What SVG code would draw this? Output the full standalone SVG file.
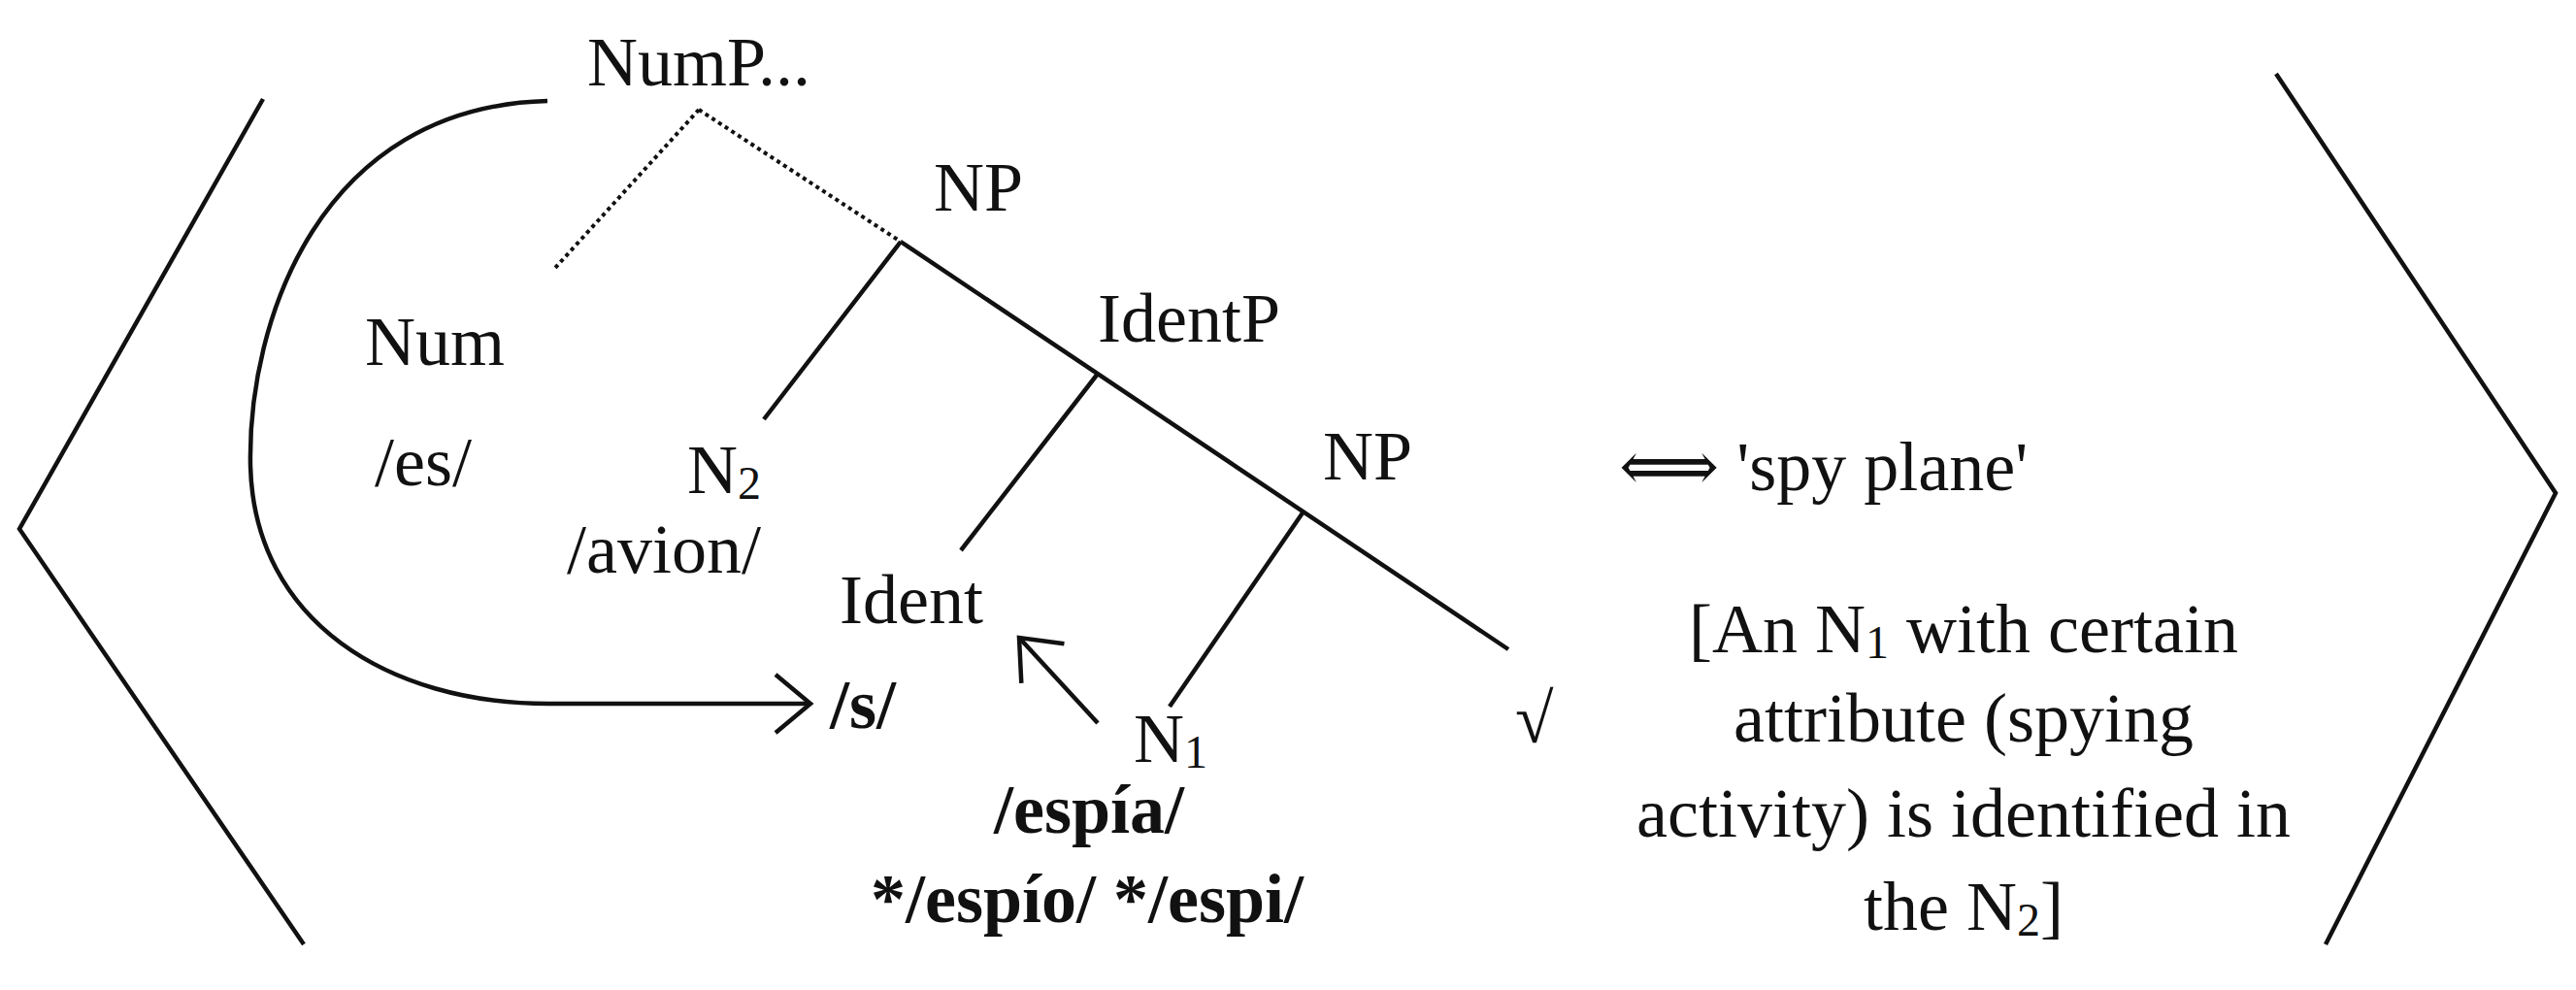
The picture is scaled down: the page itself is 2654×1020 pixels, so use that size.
<svg xmlns="http://www.w3.org/2000/svg" width="2654" height="1020" viewBox="0 0 2654 1020">
<style>
text{font-family:"Liberation Serif","DejaVu Serif",serif;font-size:72px;fill:#111}
.b{font-weight:bold}
.l{stroke:#111;stroke-width:4.5;fill:none}
.d{stroke:#111;stroke-width:4;fill:none;stroke-dasharray:4 4}
</style>
<defs>
<marker id="ah2" markerWidth="50" markerHeight="70" refX="46" refY="35" orient="auto" markerUnits="userSpaceOnUse"><path d="M10,5 L46,35 L10,65" fill="none" stroke="#111" stroke-width="4.5"/></marker></defs>
<g id="brackets">
<polyline class="l" points="271,102 20,545 313,973"/>
<polyline class="l" points="2345,76 2633,508 2396,973"/>
</g>
<g id="connectors">
<line class="d" x1="720" y1="113" x2="572" y2="276"/>
<line class="d" x1="720" y1="113" x2="928" y2="249"/>
<line class="l" x1="928" y1="249" x2="1554" y2="669"/>
<line class="l" x1="928" y1="249" x2="787" y2="432"/>
<line class="l" x1="1131" y1="385" x2="990" y2="567"/>
<line class="l" x1="1343" y1="527" x2="1205" y2="728"/>
<line class="l" x1="1131" y1="745" x2="1050" y2="657" marker-end="url(#ah2)"/>
<path class="l" d="M564,104 C330,110 255,330 258,480 C262,640 400,725 565,725 L835,725" marker-end="url(#ah2)"/>
</g>
<g id="numP"><text x="605" y="88">NumP...</text></g>
<g id="np1"><text x="962" y="217">NP</text></g>
<g id="num"><text x="376" y="376">Num</text><text x="386" y="500">/es/</text></g>
<g id="n2"><text x="708" y="508">N<tspan font-size="48" dy="6">2</tspan></text><text x="584" y="590">/avion/</text></g>
<g id="identP"><text x="1131" y="352">IdentP</text></g>
<g id="np2"><text x="1363" y="494">NP</text></g>
<g id="ident"><text x="865" y="642">Ident</text><text class="b" x="855" y="750">/s/</text></g>
<g id="n1"><text x="1168" y="785">N<tspan font-size="48" dy="6">1</tspan></text><text class="b" x="1024" y="858">/espía/</text><text class="b" x="897" y="950">*/espío/ */espi/</text></g>
<g id="root"><text x="1561" y="765">√</text></g>
<g id="meaning"><text x="1668" y="505">⟺ 'spy plane'</text>
<text text-anchor="middle" x="2023" y="672">[An N<tspan font-size="48" dy="6">1</tspan><tspan dy="-6"> with certain</tspan></text>
<text text-anchor="middle" x="2023" y="764">attribute (spying</text>
<text text-anchor="middle" x="2023" y="862">activity) is identified in</text>
<text text-anchor="middle" x="2023" y="958">the N<tspan font-size="48" dy="6">2</tspan><tspan dy="-6">]</tspan></text></g>
</svg>
